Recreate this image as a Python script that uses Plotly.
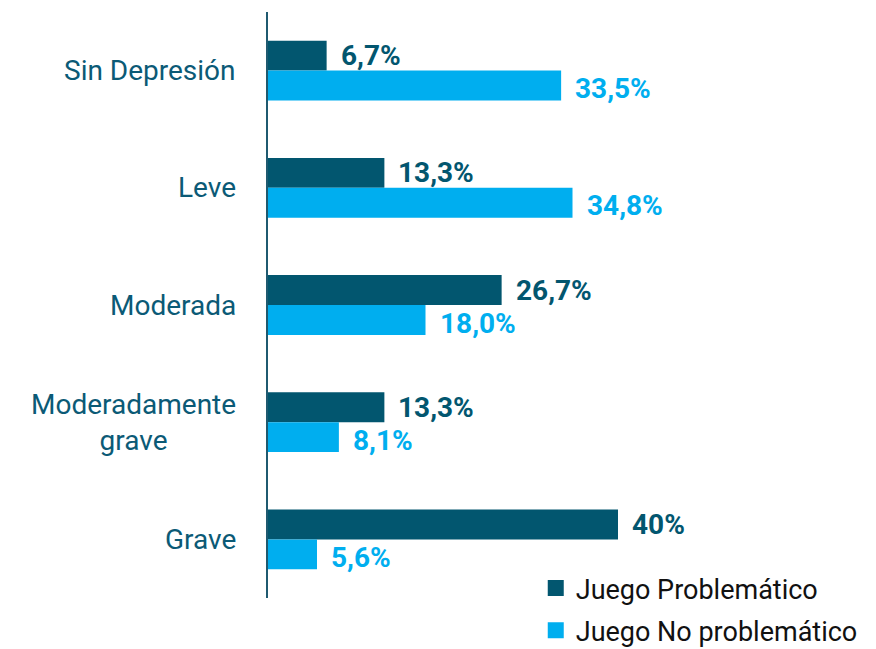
import plotly.graph_objects as go

categories = ["Sin Depresión", "Leve", "Moderada", "Moderadamente<br>grave", "Grave"]
problematico = [6.7, 13.3, 26.7, 13.3, 40]
no_problematico = [33.5, 34.8, 18.0, 8.1, 5.6]
labels_prob = ["6,7%", "13,3%", "26,7%", "13,3%", "40%"]
labels_noprob = ["33,5%", "34,8%", "18,0%", "8,1%", "5,6%"]
series_names = ["Juego Problemático", "Juego No problemático"]

DARK = "#02566F"
LIGHT = "#00AEEF"
LABEL = "#0B5A76"
FONT = "Roboto, Arial, sans-serif"

fig = go.Figure()
fig.add_trace(go.Bar(
    y=categories, x=problematico, orientation="h", name=series_names[0],
    marker=dict(color=DARK, line=dict(width=0)), showlegend=False,
))
fig.add_trace(go.Bar(
    y=categories, x=no_problematico, orientation="h", name=series_names[1],
    marker=dict(color=LIGHT, line=dict(width=0)), showlegend=False,
))

# legend entries with larger square swatches
for name, col, grp in zip(series_names, [DARK, LIGHT], ["a", "b"]):
    fig.add_trace(go.Scatter(
        x=[None], y=[None], mode="markers", name=name, legendgroup=grp,
        marker=dict(symbol="square", size=18, color=col),
    ))

# category labels, centred on each line
for cat in categories:
    fig.add_annotation(x=0, y=cat, text=cat, showarrow=False,
                       xanchor="right", align="center", xshift=-30,
                       font=dict(family=FONT, size=28, color=LABEL))

# value labels next to each bar end
for cat, v, t in zip(categories, problematico, labels_prob):
    fig.add_annotation(x=v, y=cat, text=f"<b>{t}</b>", showarrow=False,
                       xanchor="left", xshift=12, yshift=15,
                       font=dict(family=FONT, size=28, color=DARK))
for cat, v, t in zip(categories, no_problematico, labels_noprob):
    fig.add_annotation(x=v, y=cat, text=f"<b>{t}</b>", showarrow=False,
                       xanchor="left", xshift=12, yshift=-18,
                       font=dict(family=FONT, size=28, color=LIGHT))

fig.update_layout(
    width=876, height=649,
    margin=dict(l=268, r=83, t=12, b=51, autoexpand=False),
    paper_bgcolor="white", plot_bgcolor="white",
    barmode="group", bargap=0.49, bargroupgap=0,
    font=dict(family=FONT, size=27, color=LABEL),
    xaxis=dict(range=[0, 60], visible=False, fixedrange=True),
    yaxis=dict(autorange="reversed", showline=True, linecolor="#1F5A70", linewidth=2,
               ticks="", showticklabels=False, showgrid=False, zeroline=False),
    legend=dict(x=0.51, y=0.058, xanchor="left", yanchor="top",
                font=dict(family=FONT, size=27, color="#111111"),
                traceorder="grouped", tracegroupgap=4, itemsizing="trace",
                itemwidth=30, bgcolor="rgba(0,0,0,0)"),
)

fig.write_html("out.html")
